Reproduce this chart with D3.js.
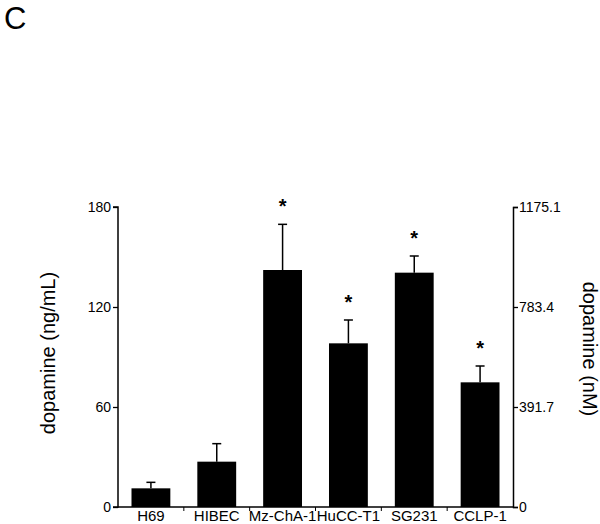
<!DOCTYPE html>
<html>
<head>
<meta charset="utf-8">
<script src="https://cdn.jsdelivr.net/npm/d3@7"></script>
<style>
  body { margin: 0; background: #fff; }
  text { font-family: "Liberation Sans", Arial, Helvetica, sans-serif; }
</style>
</head>
<body>
<script>
// cell lines and dopamine values (ng/mL), upper error bar ends
var cellLines = ["H69", "HIBEC", "Mz-ChA-1", "HuCC-T1", "SG231", "CCLP-1"];
var dopamine = [11.2, 27.2, 142.2, 98.2, 140.6, 74.8];
var errorTop = [14.8, 38.0, 169.6, 112.2, 150.6, 84.6];
var significant = [false, false, true, true, true, true];
var leftTicks = [0, 60, 120, 180];
var rightTicks = [0, 391.7, 783.4, 1175.1];

var width = 600,
    height = 524;

var svg = d3.select("body").append("svg")
    .attr("width", width)
    .attr("height", height);

var x = d3.scaleBand()
    .domain(cellLines)
    .range([118, 513])
    .paddingInner(0.41)
    .paddingOuter(0.205);

var y = d3.scaleLinear()
    .domain([0, 180])
    .range([507, 207]);

// nM scale, same pixel span
var y2 = d3.scaleLinear()
    .domain([0, 1175.1])
    .range([507, 207]);

var data = cellLines.map(function(d, i) {
    return { name: d, value: dopamine[i], err: errorTop[i], star: significant[i] };
});

// panel letter
svg.append("text")
    .attr("x", 4)
    .attr("y", 29)
    .style("font-size", "31px")
    .text("C");

// bars
svg.selectAll(".bar")
    .data(data)
    .enter().append("rect")
    .attr("class", "bar")
    .attr("x", function(d) { return x(d.name); })
    .attr("width", x.bandwidth())
    .attr("y", function(d) { return y(d.value); })
    .attr("height", function(d) { return y(0) - y(d.value); })
    .attr("fill", "#000");

// error bars (upper only)
var err = svg.selectAll(".err")
    .data(data)
    .enter().append("g")
    .attr("class", "err")
    .attr("stroke", "#000")
    .attr("stroke-width", 1.5);

err.append("line")
    .attr("x1", function(d) { return x(d.name) + x.bandwidth() / 2; })
    .attr("x2", function(d) { return x(d.name) + x.bandwidth() / 2; })
    .attr("y1", function(d) { return y(d.value); })
    .attr("y2", function(d) { return y(d.err); });

err.append("line")
    .attr("x1", function(d) { return x(d.name) + x.bandwidth() / 2 - 4.5; })
    .attr("x2", function(d) { return x(d.name) + x.bandwidth() / 2 + 4.5; })
    .attr("y1", function(d) { return y(d.err); })
    .attr("y2", function(d) { return y(d.err); });

// significance stars
svg.selectAll(".star")
    .data(data.filter(function(d) { return d.star; }))
    .enter().append("text")
    .attr("class", "star")
    .attr("x", function(d) { return x(d.name) + x.bandwidth() / 2; })
    .attr("y", function(d) { return y(d.err) - 11; })
    .attr("text-anchor", "middle")
    .style("font-size", "20px")
    .style("font-weight", "bold")
    .text("*");

// left axis
var yAxis = d3.axisLeft(y)
    .tickValues(leftTicks)
    .tickSize(5)
    .tickPadding(2)
    .tickFormat(d3.format("d"));

var gl = svg.append("g")
    .attr("transform", "translate(118,0)")
    .call(yAxis);
gl.select(".domain").attr("stroke-width", 1.5).attr("d", "M-5,207H0V507H-5");
gl.selectAll("line").attr("stroke-width", 1.3);
gl.selectAll("text").style("font-size", "14px").attr("fill", "#000")
    .style("font-family", "'Liberation Sans', Arial, sans-serif");

// right axis
var yAxis2 = d3.axisRight(y2)
    .tickValues(rightTicks)
    .tickSize(5)
    .tickPadding(1)
    .tickFormat(function(d) { return d === 0 ? "0" : d3.format(".1f")(d); });

var gr = svg.append("g")
    .attr("transform", "translate(513,0)")
    .call(yAxis2);
gr.select(".domain").attr("stroke-width", 1.5);
gr.selectAll("line").attr("stroke-width", 1.3);
gr.selectAll("text").style("font-size", "14px").attr("fill", "#000")
    .style("font-family", "'Liberation Sans', Arial, sans-serif");

// bottom axis with category labels
var xAxis = d3.axisBottom(x)
    .tickSize(0)
    .tickPadding(3);

var gb = svg.append("g")
    .attr("transform", "translate(0,507)")
    .call(xAxis);
gb.select(".domain").attr("stroke-width", 1.5).attr("d", "M118,0H513");
gb.selectAll("text").style("font-size", "15px").attr("fill", "#000")
    .style("font-family", "'Liberation Sans', Arial, sans-serif");

// small separator ticks between categories
var step = x.step();
gb.selectAll(".sep")
    .data(cellLines.slice(1))
    .enter().append("line")
    .attr("class", "sep")
    .attr("x1", function(d) { return x(d) - step * 0.205; })
    .attr("x2", function(d) { return x(d) - step * 0.205; })
    .attr("y1", 0)
    .attr("y2", 4)
    .attr("stroke", "#000");

// axis titles
svg.append("text")
    .attr("transform", "translate(55,353) rotate(-90)")
    .attr("text-anchor", "middle")
    .style("font-size", "20px")
    .text("dopamine (ng/mL)");

svg.append("text")
    .attr("transform", "translate(583,349) rotate(90)")
    .attr("text-anchor", "middle")
    .style("font-size", "20px")
    .text("dopamine (nM)");
</script>
</body>
</html>
